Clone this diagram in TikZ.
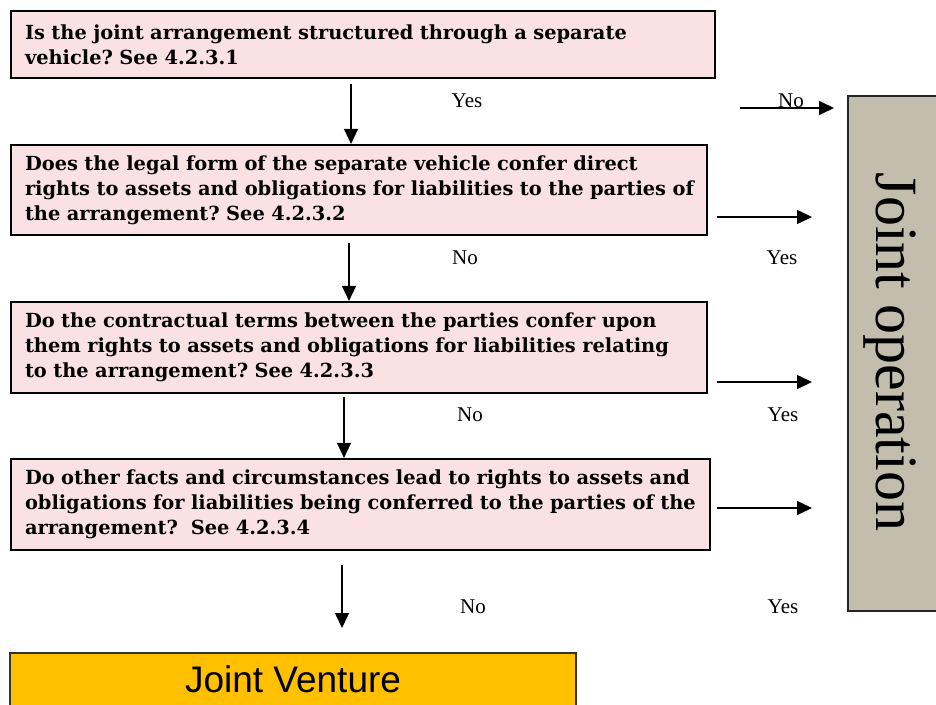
\documentclass[tikz,border=0pt]{standalone}
\usepackage{fontspec}
\setmainfont{DejaVu Serif}
\newfontfamily\timesf{Liberation Serif}
\newfontfamily\arialf{Liberation Sans}
\usetikzlibrary{arrows.meta}
\definecolor{pinkfill}{RGB}{249,225,228}
\definecolor{jofill}{RGB}{194,189,172}
\definecolor{jvfill}{RGB}{255,192,0}
\frenchspacing
\begin{document}
\begin{tikzpicture}[x=1pt,y=-1pt,
  qbox/.style={draw=black, line width=2.2pt, fill=pinkfill, inner xsep=14pt, inner ysep=0pt, align=left, font=\bfseries\fontsize{19.4}{25}\selectfont},
  arr/.style={line width=1.5pt, -{Triangle[length=15pt,width=14pt]}},
  lab/.style={font=\timesf\fontsize{21}{21}\selectfont, anchor=base, inner sep=0pt}]
\useasboundingbox (0,0) rectangle (936,704);
% question boxes
\node[qbox, minimum width=704pt, minimum height=67pt, text width=676pt] (q1) at (363,44.5)
  {\mbox{Is the joint arrangement structured through a separate}\\\mbox{vehicle? See 4.2.3.1}};
\node[qbox, minimum width=696pt, minimum height=90pt, text width=668pt] (q2) at (359,190)
  {\mbox{Does the legal form of the separate vehicle confer direct}\\\mbox{rights to assets and obligations for liabilities to the parties of}\\\mbox{the arrangement? See 4.2.3.2}};
\node[qbox, minimum width=696pt, minimum height=91pt, text width=668pt] (q3) at (359,347.5)
  {\mbox{Do the contractual terms between the parties confer upon}\\\mbox{them rights to assets and obligations for liabilities relating}\\\mbox{to the arrangement? See 4.2.3.3}};
\node[qbox, minimum width=699pt, minimum height=91pt, text width=671pt] (q4) at (360.5,504.5)
  {\mbox{Do other facts and circumstances lead to rights to assets and}\\\mbox{obligations for liabilities being conferred to the parties of the}\\\mbox{arrangement?\ \ See 4.2.3.4}};
% outcome boxes
\node[draw=black!85, line width=2pt, fill=jofill, minimum width=110pt, minimum height=515pt, anchor=north west, inner sep=0pt] (jo) at (847,95) {};
\node[font=\timesf\fontsize{60}{60}\selectfont, rotate=-90, anchor=base, inner sep=0pt] (jot) at (876,352) {Joint operation};
\node[draw=black!80, line width=1.5pt, fill=jvfill, minimum width=566pt, anchor=north, inner xsep=0pt, inner ysep=0pt, text height=40pt, text depth=28pt, font=\arialf\fontsize{37}{37}\selectfont] (jv) at (293,652) {Joint Venture};
% arrow coordinates
\coordinate (a1s) at (351,84);
\coordinate (a2s) at (349,243);
\coordinate (a3s) at (344,397);
\coordinate (a4s) at (342,565);
\coordinate (a4e) at (342,628);
\coordinate (h1s) at (740,108);
\coordinate (h1e) at (834,108);
\coordinate (h2s) at (717,217);
\coordinate (h2e) at (812,217);
\coordinate (h3s) at (717,382);
\coordinate (h3e) at (812,382);
\coordinate (h4s) at (717,508);
\coordinate (h4e) at (812,508);
% vertical arrows
\draw[arr] (a1s) -- (a1s |- q2.north);
\draw[arr] (a2s) -- (a2s |- q3.north);
\draw[arr] (a3s) -- (a3s |- q4.north);
\draw[arr] (a4s) -- (a4e);
% horizontal arrows
\draw[arr] (h1s) -- (h1e);
\draw[arr] (h2s) -- (h2e);
\draw[arr] (h3s) -- (h3e);
\draw[arr] (h4s) -- (h4e);
% labels
\node[lab] (y1) at (467,107) {Yes};
\node[lab] (n1) at (791,107) {No};
\node[lab] (n2) at (465,264) {No};
\node[lab] (y2) at (782,264) {Yes};
\node[lab] (n3) at (470,421) {No};
\node[lab] (y3) at (783,421) {Yes};
\node[lab] (n4) at (473,613) {No};
\node[lab] (y4) at (783,613) {Yes};
\end{tikzpicture}
\end{document}
